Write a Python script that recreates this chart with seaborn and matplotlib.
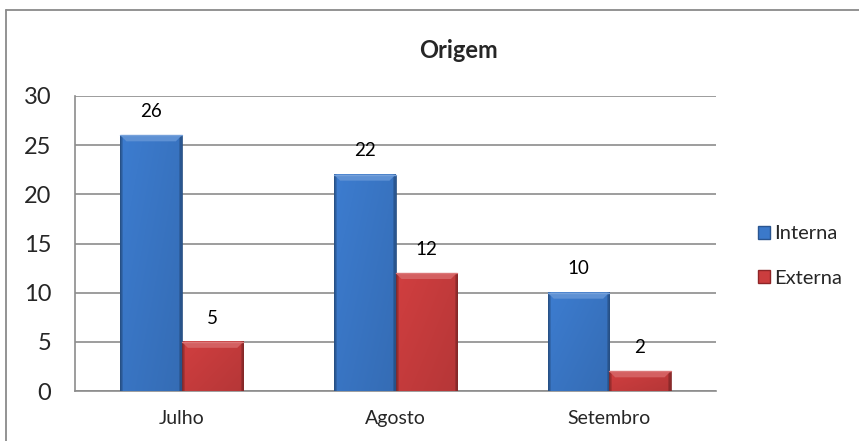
import matplotlib
matplotlib.use("Agg")
import matplotlib.pyplot as plt
import numpy as np
import pandas as pd
import seaborn as sns
from matplotlib.colors import to_rgb
from matplotlib.lines import Line2D
from matplotlib.patches import Patch

months = ["Julho", "Agosto", "Setembro"]
series = ["Interna", "Externa"]
interna = [26, 22, 10]
externa = [5, 12, 2]
y_ticks = [0, 5, 10, 15, 20, 25, 30]

blue = "#3b79ca"
red = "#cb3d3e"

df = pd.DataFrame({
    "mes": months * 2,
    "valor": interna + externa,
    "origem": [series[0]] * 3 + [series[1]] * 3,
})

sns.set_theme(style="white")
plt.rcParams["font.family"] = ["Lato", "DejaVu Sans"]

fig = plt.figure(figsize=(8.59, 4.41), dpi=100)
ax = fig.add_axes([75 / 859, 1 - 391 / 441, (716 - 75) / 859, (391 - 96) / 441])

sns.barplot(data=df, x="mes", y="valor", hue="origem", palette=[blue, red],
            width=0.575, gap=0, ax=ax, legend=False, saturation=1)

ax.set_ylim(0, 30)
ax.set_xlim(-0.5, 2.5)

# data units per pixel, for the bevel
px_x = 3 / 641
px_y = 30 / 295


def shade(rgb, f):
    rgb = np.asarray(rgb)
    if f >= 1:
        return rgb + (1 - rgb) * (f - 1)
    return rgb * f


# Excel-like bevel shading on every bar
for patch in list(ax.patches):
    h = patch.get_height()
    if h <= 0:
        continue
    base = np.array(to_rgb(patch.get_facecolor()))
    x0, w = patch.get_x(), patch.get_width()
    nx, ny = 120, 60
    xs = np.linspace(0, 1, nx)
    hf = 1.03 - 0.08 * xs
    hf[xs < 0.04] = 0.78
    hf[xs > 0.96] = 0.72
    vf = np.linspace(1.0, 0.94, ny)
    img = base[None, None, :] * hf[None, :, None] * vf[:, None, None]
    ax.imshow(np.clip(img, 0, 1), extent=[x0, x0 + w, 0, h], aspect="auto",
              zorder=3, interpolation="bilinear")
    bx, by = 6 * px_x, min(6 * px_y, h * 0.45)
    ax.fill([x0, x0 + w, x0 + w - bx, x0 + bx], [h, h, h - by, h - by],
            color=shade(base, 1.18), zorder=4, lw=0)
    ax.plot([x0, x0 + w], [h, h], color=shade(base, 1.3), lw=1, zorder=5)
    patch.set_edgecolor(shade(base, 0.65))
    patch.set_linewidth(0.6)
    patch.set_facecolor("none")
    patch.set_zorder(5)

for container in ax.containers:
    ax.bar_label(container, padding=11, fontsize=13.5, color="black")

ax.set_ylim(0, 30)
ax.set_xlim(-0.5, 2.5)
ax.set_yticks(y_ticks)
ax.set_yticklabels([str(v) for v in y_ticks], fontsize=17)
ax.tick_params(axis="y", length=0, pad=17)
ax.tick_params(axis="x", length=0, pad=14, labelsize=14)
ax.set_xlabel("")
ax.set_ylabel("")
ax.yaxis.grid(True, color="#8c8c8c", linewidth=1.2, zorder=0)
ax.set_axisbelow(True)
for side in ["top", "right"]:
    ax.spines[side].set_visible(False)
for side in ["left", "bottom"]:
    ax.spines[side].set_color("#8c8c8c")
    ax.spines[side].set_linewidth(1.2)

fig.text(458 / 859, 1 - 51 / 441, "Origem", ha="center", va="center",
         fontsize=17, fontweight="bold")

handles = [Patch(facecolor=blue, edgecolor="#2a5590", label=series[0]),
           Patch(facecolor=red, edgecolor="#8e2527", label=series[1])]
fig.legend(handles=handles, loc="center left", bbox_to_anchor=(740 / 859, 1 - 256 / 441),
           frameon=False, fontsize=14.5, handlelength=0.6, handleheight=0.6,
           handletextpad=0.2, labelspacing=1.35)

# chart border (top and left visible in the reference)
fig.add_artist(Line2D([6 / 859, 6 / 859], [0, 1 - 9.5 / 441], color="#8a8a8a", lw=1.3))
fig.add_artist(Line2D([6 / 859, 1], [1 - 9.5 / 441, 1 - 9.5 / 441], color="#8a8a8a", lw=1.3))

fig.savefig("out.png", dpi=100)
